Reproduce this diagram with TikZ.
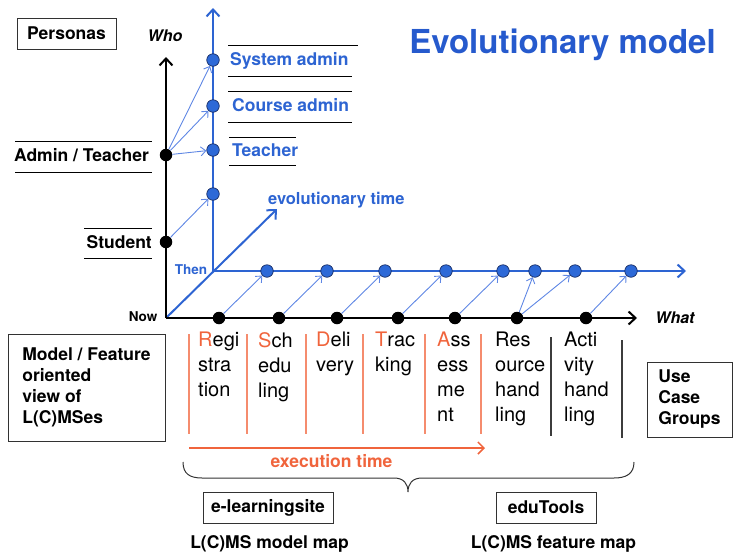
\documentclass[tikz,border=0pt]{standalone}
\usepackage{fontspec}
\setmainfont{TeX Gyre Heros}
\usetikzlibrary{arrows.meta}
\definecolor{axblue}{RGB}{45,100,210}
\definecolor{ttlblue}{RGB}{38,90,205}
\definecolor{thinblue}{RGB}{95,135,228}
\definecolor{dotfill}{RGB}{45,105,215}
\definecolor{dotedge}{RGB}{25,45,100}
\definecolor{orng}{RGB}{240,100,60}
\definecolor{orngline}{RGB}{245,140,110}
\definecolor{sepgray}{RGB}{60,60,60}
\definecolor{boxgray}{RGB}{50,50,50}
\tikzset{
  lbl/.style={font=\fontsize{17.5}{21}\selectfont\bfseries, inner sep=0pt},
  smalllbl/.style={font=\fontsize{13.5}{16}\selectfont\bfseries, inner sep=0pt},
  axlbl/.style={font=\fontsize{16}{19}\selectfont\bfseries\itshape, inner sep=0pt},
  coltext/.style={font=\fontsize{20}{25}\selectfont, align=left, anchor=north west, inner sep=0pt},
  bdot/.style={circle, fill=dotfill, draw=dotedge, line width=0.7pt, inner sep=0pt, minimum size=12.5pt},
  kdot/.style={circle, fill=black, inner sep=0pt, minimum size=12.5pt},
  thinarr/.style={draw=thinblue, line width=0.9pt, -{Straight Barb[length=5pt,width=9pt]}},
  blueax/.style={draw=axblue, line width=2pt, -{Straight Barb[length=7pt,width=13pt]}},
  blackax/.style={draw=black, line width=2pt, -{Straight Barb[length=7pt,width=13pt]}},
  sepline/.style={draw=black, line width=0.8pt},
  orsep/.style={draw=orngline, line width=1.2pt},
  grsep/.style={draw=sepgray, line width=1.2pt},
  framebox/.style={draw=boxgray, line width=1pt, inner sep=0pt}
}
\begin{document}
\begin{tikzpicture}[x=1pt,y=-1pt]
\useasboundingbox (0,0) rectangle (733,555);

% title
\node[lbl, font=\fontsize{33}{39}\selectfont\bfseries, text=ttlblue, anchor=base] (title) at (562.5,53.5) {Evolutionary model};

% boxes
\node[framebox, lbl, minimum width=99pt, minimum height=31pt] (personas) at (66.5,33.5) {Personas};
\node[framebox, lbl, minimum width=157pt, minimum height=107pt, align=left] (modelbox) at (86.5,387.5) {Model / Feature\\oriented\\view of\\L(C)MSes};
\node[framebox, lbl, minimum width=85pt, minimum height=75pt, align=left] (ucg) at (689.5,399.5) {Use\\Case\\Groups};
\node[framebox, lbl, minimum width=130pt, minimum height=31pt] (elearn) at (268,507.5) {e-learningsite};
\node[framebox, lbl, minimum width=100pt, minimum height=31pt] (edutools) at (546,507.5) {eduTools};
\node[lbl, anchor=base] (modelmap) at (269.5,548) {L(C)MS model map};
\node[lbl, anchor=base] (featmap) at (553.5,548) {L(C)MS feature map};

% axes coordinates
\coordinate (now) at (166,318);
\coordinate (whotop) at (166,57);
\coordinate (whatend) at (637,318);
\coordinate (then) at (213,271);
\coordinate (btop) at (213,8);
\coordinate (bend) at (686,271);
\coordinate (evoend) at (277,209);

\draw[blueax] (then) -- (btop);
\draw[blueax] (then) -- (bend);
\draw[blueax] (now) -- (evoend);
\draw[blackax] (now) -- (whotop);
\draw[blackax] (now) -- (whatend);

% axis labels
\node[axlbl, anchor=base] (who) at (165,41) {Who};
\node[axlbl, anchor=base] (what) at (675,323) {What};
\node[smalllbl, anchor=base] (nowlbl) at (143,321) {Now};
\node[smalllbl, anchor=base, text=axblue] (thenlbl) at (191,274) {Then};
\node[lbl, font=\fontsize{16.5}{20}\selectfont\bfseries, text=axblue, anchor=base west] (evolbl) at (268,204) {evolutionary time};

% persona labels
\node[lbl, text=axblue, anchor=base west] (sysl) at (230,65) {System admin};
\node[lbl, text=axblue, anchor=base west] (coursel) at (232,111) {Course admin};
\node[lbl, text=axblue, anchor=base west] (teachl) at (232,156) {Teacher};
\node[lbl, anchor=base east] (adminl) at (149,161) {Admin / Teacher};
\node[lbl, anchor=base east] (studl) at (152,248) {Student};
\draw[sepline] (228,45) -- (358,45) (228,76) -- (352,76);
\draw[sepline] (228,91) -- (352,91) (228,122) -- (352,122);
\draw[sepline] (229,137) -- (296,137) (229,165) -- (296,165);
\draw[sepline] (15,141) -- (152,141) (15,172) -- (152,172);
\draw[sepline] (84,228) -- (152,228) (84,258) -- (152,258);

% dots on who axes
\node[bdot] (bs) at (213,60) {};
\node[bdot] (bc) at (213,106) {};
\node[bdot] (bt) at (213,150) {};
\node[bdot] (bst) at (213,194) {};
\node[kdot] (kat) at (166,155) {};
\node[kdot] (kst) at (166,242) {};
\draw[thinarr] (kat) -- (bs);
\draw[thinarr] (kat) -- (bc);
\draw[thinarr] (kat) -- (bt);
\draw[thinarr] (kst) -- (bst);

% dots on what axes
\foreach \n/\x in {1/267,2/327,3/385,4/446,5/503,6/535,7/575,8/631}
  \node[bdot] (h\n) at (\x,271) {};
\foreach \n/\x in {1/219,2/279,3/337,4/398,5/455,6/517,7/586}
  \node[kdot] (k\n) at (\x,318) {};
\draw[thinarr] (k1) -- (h1);
\draw[thinarr] (k2) -- (h2);
\draw[thinarr] (k3) -- (h3);
\draw[thinarr] (k4) -- (h4);
\draw[thinarr] (k5) -- (h5);
\draw[thinarr] (k6) -- (h6);
\draw[thinarr] (k6) -- (h7);
\draw[thinarr] (k7) -- (h8);

% column separators
\foreach \x in {189,247,306,363,425,481}
  \draw[orsep] (\x,334) -- (\x,434);
\draw[grsep] (551,337) -- (551,436);
\draw[grsep] (622,340) -- (622,438);

% column texts
\node[coltext] (c1) at (198,332) {{\color{orng}R}egi\\stra\\tion};
\node[coltext] (c2) at (258,332) {{\color{orng}S}ch\\edu\\ling};
\node[coltext] (c3) at (316,332) {{\color{orng}D}eli\\very};
\node[coltext] (c4) at (375,332) {{\color{orng}T}rac\\king};
\node[coltext] (c5) at (437,332) {{\color{orng}A}ss\\ess\\me\\nt};
\node[coltext] (c6) at (495,332) {Res\\ource\\hand\\ling};
\node[coltext] (c7) at (564,332) {Acti\\vity\\hand\\ling};

% execution time
\coordinate (exs) at (189,448);
\coordinate (exe) at (485,448);
\draw[draw=orng, line width=1.5pt, -{Straight Barb[length=6pt,width=12pt]}] (exs) -- (exe);
\node[lbl, text=orng, anchor=base] (exlbl) at (331.5,467) {execution time};

% brace
\draw[draw=boxgray, line width=1pt] (183,462) .. controls (183,474) and (190,478) .. (202,478) -- (394,478) .. controls (404,478) and (408,484) .. (408,492) .. controls (408,484) and (412,478) .. (422,478) -- (614,478) .. controls (626,478) and (634,474) .. (634,462);
\end{tikzpicture}
\end{document}
